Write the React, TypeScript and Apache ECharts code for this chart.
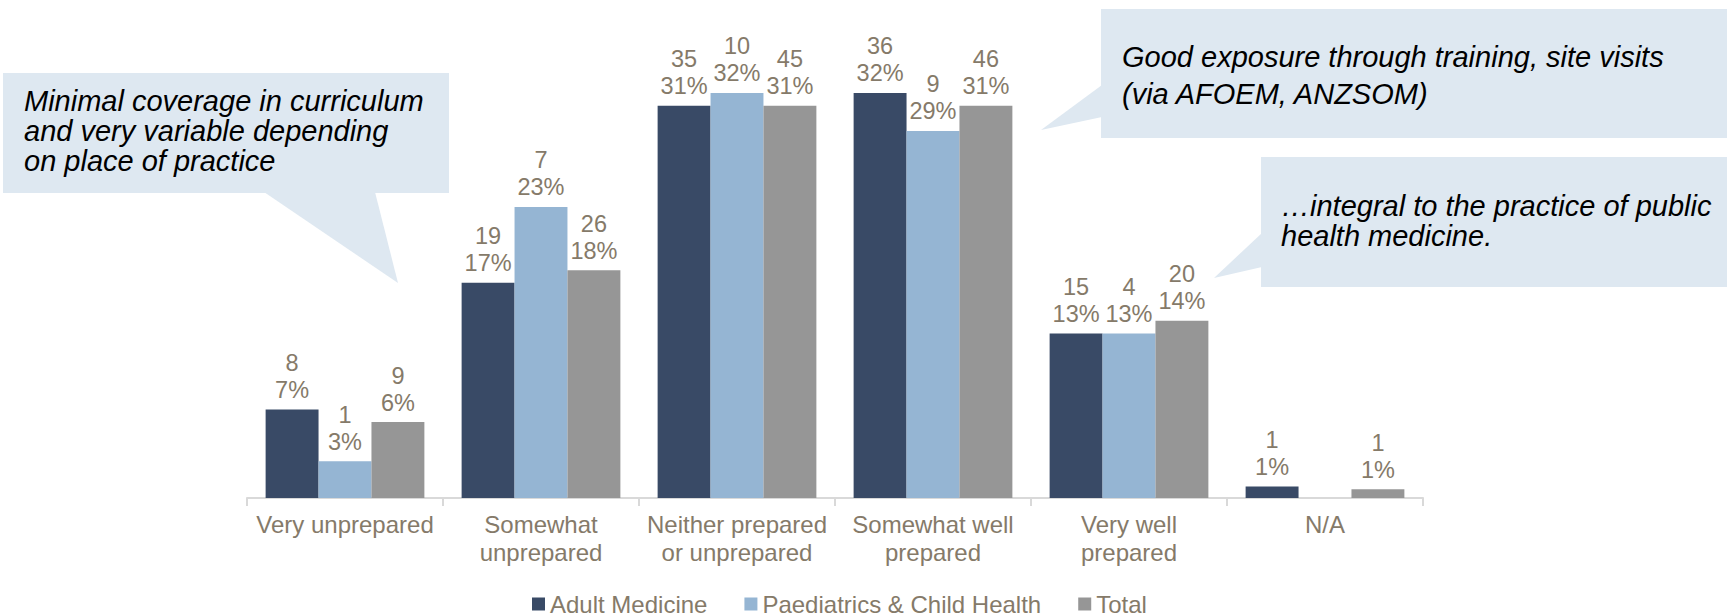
import React, { useEffect, useRef } from "react";
import * as echarts from "echarts";

const categories = [
  "Very unprepared",
  "Somewhat\nunprepared",
  "Neither prepared\nor unprepared",
  "Somewhat well\nprepared",
  "Very well\nprepared",
  "N/A",
];
const seriesNames = ["Adult Medicine", "Paediatrics & Child Health", "Total"];
const adultCounts = [8, 19, 35, 36, 15, 1];
const adultPct = [7.0, 17.0, 31.0, 32.0, 13.0, 0.9];
const paedCounts = [1, 7, 10, 9, 4, 0];
const paedPct = [2.9, 23.0, 32.0, 29.0, 13.0, 0];
const totalCounts = [9, 26, 45, 46, 20, 1];
const totalPct = [6.0, 18.0, 31.0, 31.0, 14.0, 0.7];

const callout1 = ["Minimal coverage in curriculum", "and very variable depending", "on place of practice"];
const callout2 = ["Good exposure through training, site visits", "(via AFOEM, ANZSOM)"];
const callout3 = ["\u2026integral to the practice of public", "health medicine."];

const FONT = "'Liberation Sans', Arial, sans-serif";
const TEXT_COLOR = "#857A69";
const CALLOUT_FILL = "#DEE8F1";

export default function App() {
  const ref = useRef<HTMLDivElement>(null);
  useEffect(() => {
    if (!ref.current) return;
    const chart = echarts.init(ref.current, undefined, { renderer: "svg" });
    const colors = ["#394A66", "#95B5D3", "#969696"];
    const pcts = [adultPct, paedPct, totalPct];
    const counts = [adultCounts, paedCounts, totalCounts];
    const series = seriesNames.map((name, si) => ({
      name,
      type: "bar",
      barGap: "0%",
      barCategoryGap: "19%",
      itemStyle: { color: colors[si] },
      data: pcts[si].map((v, i) => ({
        value: v,
        label: {
          show: counts[si][i] > 0,
          formatter: () => `${counts[si][i]}\n${Math.round(pcts[si][i])}%`,
        },
      })),
      label: {
        position: "top",
        distance: 6,
        color: TEXT_COLOR,
        fontSize: 23.5,
        lineHeight: 27,
        fontFamily: FONT,
      },
    }));

    const calloutText = (lines: string[], x: number, y: number, lh: number) => ({
      type: "text",
      x,
      y,
      z: 10,
      style: {
        text: lines.join("\n"),
        fontSize: 29,
        fontStyle: "italic",
        fontFamily: FONT,
        fill: "#000000",
        lineHeight: lh,
        verticalAlign: "top",
      },
    });

    chart.setOption({
      animation: false,
      textStyle: { fontFamily: FONT },
      legend: {
        data: seriesNames,
        left: 527,
        top: 587,
        itemWidth: 13,
        itemHeight: 13,
        itemGap: 37,
        icon: "rect",
        textStyle: { color: TEXT_COLOR, fontSize: 24, fontFamily: FONT },
      },
      grid: { left: 247, right: 304, top: 55, bottom: 118, containLabel: false },
      xAxis: {
        type: "category",
        data: categories,
        axisLine: { lineStyle: { color: "#D9D9D9", width: 2 } },
        axisTick: { show: true, length: 8, lineStyle: { color: "#D9D9D9", width: 2 } },
        axisLabel: {
          color: TEXT_COLOR,
          fontSize: 24,
          lineHeight: 28,
          margin: 12,
          interval: 0,
          fontFamily: FONT,
        },
      },
      yAxis: { type: "value", min: 0, max: 35, show: false, splitLine: { show: false } },
      series,
      graphic: [
        { type: "rect", shape: { x: 3, y: 73, width: 446, height: 120 }, style: { fill: CALLOUT_FILL } },
        { type: "polygon", shape: { points: [[264, 192], [375, 192], [398, 283]] }, style: { fill: CALLOUT_FILL } },
        calloutText(callout1, 24, 86, 30),
        { type: "rect", shape: { x: 1101, y: 9, width: 626, height: 129 }, style: { fill: CALLOUT_FILL } },
        { type: "polygon", shape: { points: [[1102, 85], [1102, 117], [1041, 130]] }, style: { fill: CALLOUT_FILL } },
        calloutText(callout2, 1122, 38, 37),
        { type: "rect", shape: { x: 1261, y: 157, width: 466, height: 130 }, style: { fill: CALLOUT_FILL } },
        { type: "polygon", shape: { points: [[1262, 233], [1262, 267], [1214, 278]] }, style: { fill: CALLOUT_FILL } },
        calloutText(callout3, 1281, 191, 30),
      ],
    });
    return () => chart.dispose();
  }, []);
  return (
    <div
      ref={ref}
      style={{ position: "fixed", left: 0, top: 0, width: 1727, height: 616, background: "#ffffff" }}
    />
  );
}
